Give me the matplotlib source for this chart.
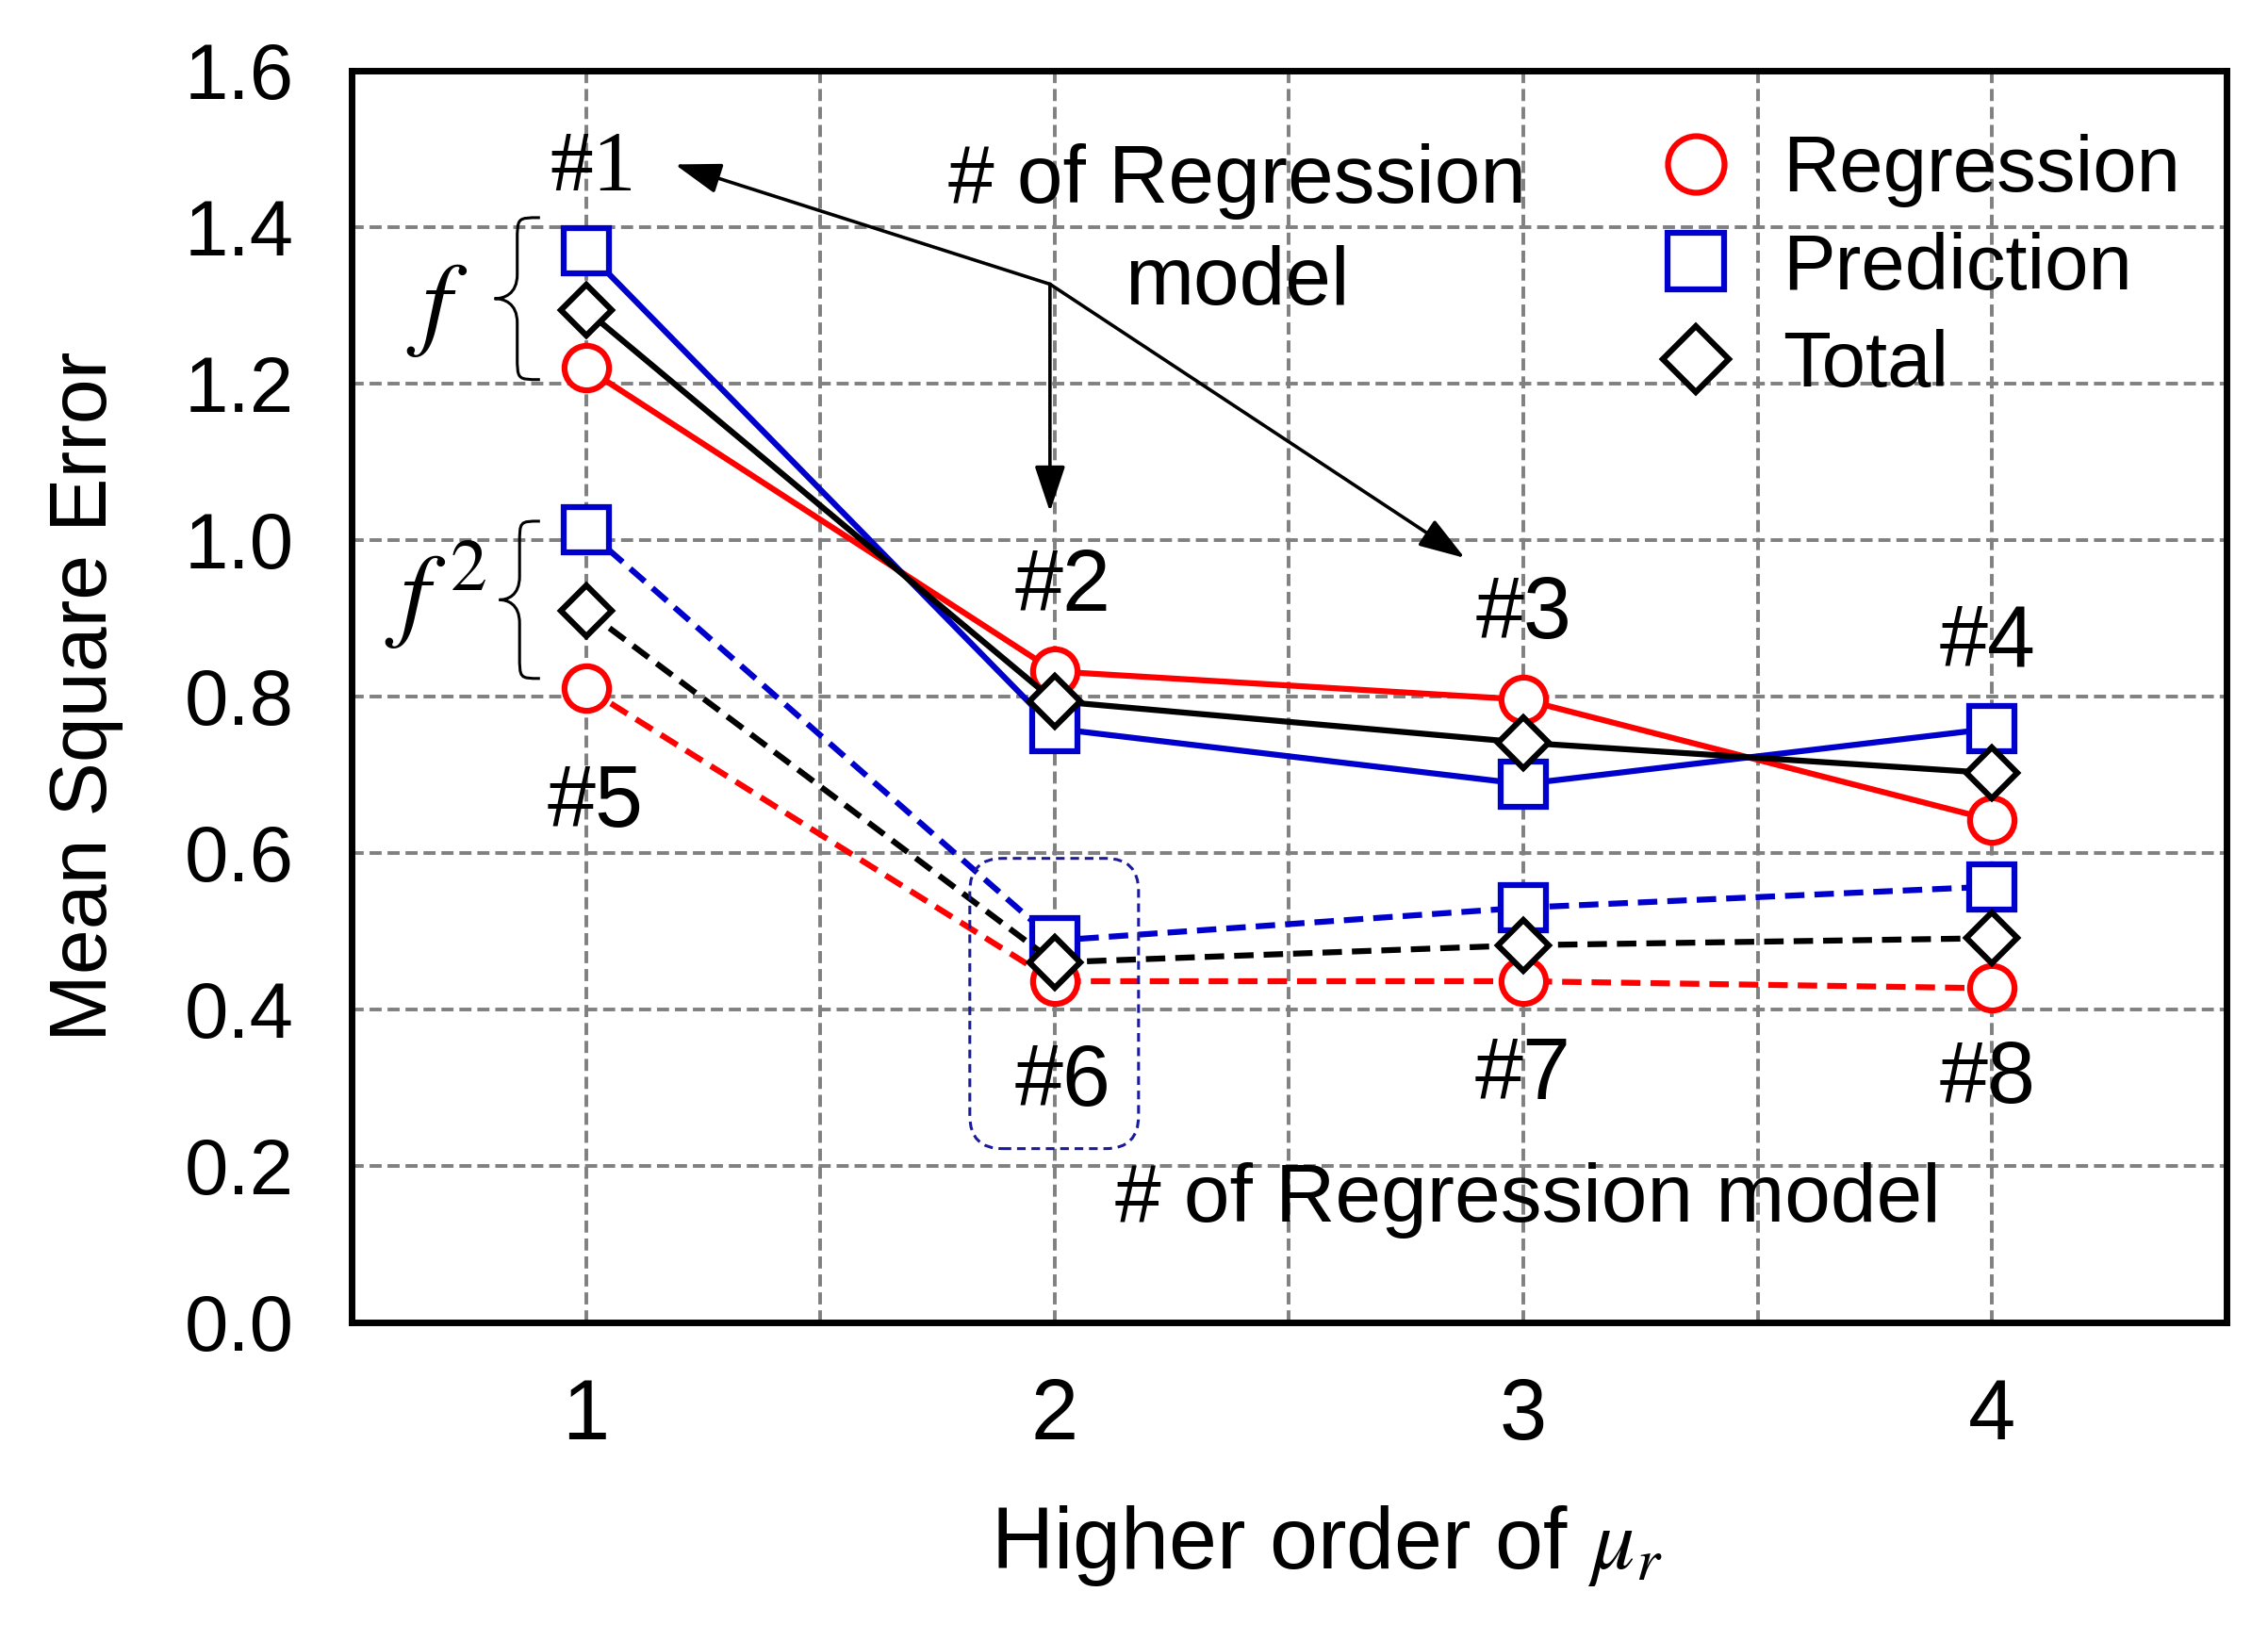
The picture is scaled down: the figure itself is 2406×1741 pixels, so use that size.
import matplotlib
matplotlib.use('Agg')
import matplotlib.pyplot as plt
from matplotlib.lines import Line2D
from matplotlib.patches import FancyBboxPatch, PathPatch
from matplotlib.path import Path
from matplotlib.ticker import FixedLocator

plt.rcParams['font.family'] = ['Liberation Sans', 'DejaVu Sans']
plt.rcParams['mathtext.fontset'] = 'stix'

# ---------------- data ----------------
orders = [1, 2, 3, 4]
reg_f = [1.220, 0.832, 0.796, 0.642]
pred_f = [1.370, 0.759, 0.688, 0.759]
tot_f = [1.294, 0.794, 0.741, 0.702]
reg_f2 = [0.811, 0.436, 0.436, 0.427]
pred_f2 = [1.013, 0.488, 0.530, 0.557]
tot_f2 = [0.910, 0.460, 0.482, 0.491]
legend_labels = ['Regression', 'Prediction', 'Total']
y_ticks = [0.0, 0.2, 0.4, 0.6, 0.8, 1.0, 1.2, 1.4, 1.6]
y_tick_labels = ['0.0', '0.2', '0.4', '0.6', '0.8', '1.0', '1.2', '1.4', '1.6']
x_tick_labels = ['1', '2', '3', '4']
model_labels = ['#1', '#2', '#3', '#4', '#5', '#6', '#7', '#8']

RED = '#ff0000'
BLUE = '#0000cc'
BLACK = '#000000'

fig = plt.figure(figsize=(24.06, 17.41), dpi=100)
ax = fig.add_axes([0.155, 0.1942, 0.8267, 0.7628])
ax.set_xlim(0.5, 4.5)
ax.set_ylim(0, 1.6)

ax.set_xticks(orders)
ax.set_xticklabels(x_tick_labels)
ax.xaxis.set_minor_locator(FixedLocator([1.5, 2.5, 3.5]))
ax.set_yticks(y_ticks)
ax.set_yticklabels(y_tick_labels)
ax.tick_params(axis='y', labelsize=60, pad=44, length=0)
ax.tick_params(axis='x', labelsize=65, pad=42, length=0)
ax.tick_params(which='minor', length=0)

grid_kw = dict(color='#808080', lw=2.8, ls=(0, (3.3, 1.6)))
ax.grid(True, which='both', axis='x', **grid_kw)
ax.grid(True, which='major', axis='y', **grid_kw)
ax.set_axisbelow(True)
for s in ax.spines.values():
    s.set_linewidth(5)
    s.set_color('black')

MS = {'o': 34, 's': 34, 'D': 28}
LW = 4.5
SOLID = '-'
DASH = (0, (3.3, 1.7))


def series(y, color, marker, ls):
    ax.plot(orders, y, color=color, lw=LW, ls=ls, marker=marker, ms=MS[marker],
            mfc='white', mec=color, mew=LW, zorder=3)


series(reg_f, RED, 'o', SOLID)
series(pred_f, BLUE, 's', SOLID)
series(tot_f, BLACK, 'D', SOLID)
series(reg_f2, RED, 'o', DASH)
series(pred_f2, BLUE, 's', DASH)
series(tot_f2, BLACK, 'D', DASH)

# model number labels
label_pos = [(1.016, 1.447), (2.018, 0.910), (3.0, 0.875), (3.99, 0.839),
             (1.02, 0.633), (2.018, 0.277), (3.0, 0.286), (3.99, 0.280)]
for i, (lab, (lx, ly)) in enumerate(zip(model_labels, label_pos)):
    fam = ['Liberation Serif'] if i == 0 else ['Liberation Sans']
    ax.text(lx, ly, lab, fontsize=66, ha='center', va='baseline', family=fam, zorder=5)

ax.text(2.39, 1.431, '# of Regression', fontsize=63, ha='center', va='baseline', zorder=5)
ax.text(2.39, 1.301, 'model', fontsize=63, ha='center', va='baseline', zorder=5)
ax.text(3.01, 0.129, '# of Regression model', fontsize=63, ha='center', va='baseline', zorder=5)

# arrows from junction
junction = (1.99, 1.327)
arrow_kw = dict(arrowstyle='-|>,head_length=1.5,head_width=0.5', mutation_scale=20,
                color='black', lw=2.6, shrinkA=0, shrinkB=0)
for tip in [(1.19, 1.48), (1.99, 1.036), (2.875, 0.977)]:
    ax.annotate('', xy=tip, xytext=junction, arrowprops=arrow_kw, zorder=5)


# curly braces
def brace(x_tip, x_end, y_top, y_bot):
    w = x_end - x_tip
    xm = x_tip + 0.5 * w
    yc = 0.5 * (y_top + y_bot)
    h = 0.5 * (y_top - y_bot)
    verts = [
        (x_end, y_top),
        (xm, y_top), (xm, y_top), (xm, y_top - 0.3 * h),
        (xm, yc + 0.3 * h),
        (xm, yc + 0.05 * h), (x_tip + 0.2 * w, yc), (x_tip, yc),
        (x_tip + 0.2 * w, yc), (xm, yc - 0.05 * h), (xm, yc - 0.3 * h),
        (xm, y_bot + 0.3 * h),
        (xm, y_bot), (xm, y_bot), (x_end, y_bot),
    ]
    codes = [Path.MOVETO,
             Path.CURVE4, Path.CURVE4, Path.CURVE4,
             Path.LINETO,
             Path.CURVE4, Path.CURVE4, Path.CURVE4,
             Path.CURVE4, Path.CURVE4, Path.CURVE4,
             Path.LINETO,
             Path.CURVE4, Path.CURVE4, Path.CURVE4]
    ax.add_patch(PathPatch(Path(verts, codes), fill=False, lw=2.2, ec='black',
                           zorder=5, clip_on=False))


brace(0.805, 0.902, 1.412, 1.205)
brace(0.815, 0.902, 1.024, 0.823)
ax.text(0.682, 1.294, '$f$', fontsize=80, ha='center', va='center', zorder=5)
ax.text(0.679, 0.930, '$f^{\\,2}$', fontsize=80, ha='center', va='center', zorder=5)

# dashed rounded box around #6
box = FancyBboxPatch((1.819, 0.222), 0.36, 0.371,
                     boxstyle='round,pad=0,rounding_size=0.07', mutation_aspect=0.6,
                     fill=False, ec='#1a1a9a', lw=2.2, ls=(0, (3, 2)), zorder=4)
ax.add_patch(box)

# legend
handles = [
    Line2D([], [], ls='none', marker='o', ms=MS['o'], mfc='white', mec=RED, mew=LW),
    Line2D([], [], ls='none', marker='s', ms=MS['s'], mfc='white', mec=BLUE, mew=LW),
    Line2D([], [], ls='none', marker='D', ms=MS['D'], mfc='white', mec=BLACK, mew=LW),
]
ax.legend(handles, legend_labels, loc='upper left', bbox_to_anchor=(0.696, 0.9496),
          frameon=False, fontsize=60, markerscale=1.27, handlelength=1.0,
          handletextpad=0.6, borderpad=0, borderaxespad=0, labelspacing=0.31)

ax.set_ylabel('Mean Square Error', fontsize=62)
ax.yaxis.set_label_coords(-0.1217, 0.5)
ax.set_xlabel('Higher order of $\\mu_r$', fontsize=66, va='top')
ax.xaxis.set_label_coords(0.52, -0.145)

fig.savefig('out.png', dpi=100)
